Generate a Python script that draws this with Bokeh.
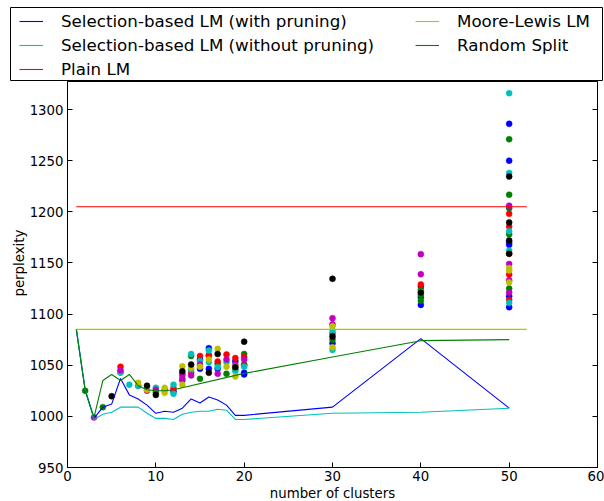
from bokeh.plotting import figure
from bokeh.layouts import column
from bokeh.models import (Legend, LegendItem, FixedTicker, LinearAxis, Range1d,
                          CustomJSTickFormatter, Title)
from bokeh.embed import file_html
from bokeh.resources import INLINE

# ---------------- data ----------------
cluster_x = [1, 2, 3, 4, 5, 6, 7, 8, 9, 10, 11, 12, 13, 14, 15, 16, 17, 18, 19, 20, 30, 40, 50]
with_pruning = [1085, 1026, 998, 1009, 1012, 1037, 1021, 1017, 1011, 1003, 1005, 1004,
                1008, 1017, 1013, 1019, 1016, 1011, 1001, 1001, 1009, 1076, 1008]
without_pruning = [1085, 1026, 997, 1002, 1004, 1009, 1009, 1009, 1003, 998, 998, 997,
                   1002, 1004, 1005, 1005, 1007, 1006, 997, 997, 1003, 1004, 1008]

random_x = [1, 2, 3, 4, 5, 6, 7, 8, 9, 10, 11, 12, 20, 30, 40, 50]
random_split = [1085, 1025, 999, 1035, 1041, 1035, 1041, 1030, 1026, 1025, 1025, 1026,
                1042, 1058, 1074, 1075]

baseline_x = [1, 52]
plain_lm = [1205, 1205]
moore_lewis = [1085, 1085]

# scattered runs, grouped by marker colour
blue_x = [12, 15, 15, 16, 16, 17, 19, 20, 20, 30, 40, 40, 40, 50, 50, 50, 50, 50, 50]
blue_y = [1024.6, 1055.6, 1046.5, 1066.7, 1046.5, 1046.5, 1054, 1042.6, 1041, 1071.5,
          1127, 1116.5, 1109, 1286, 1250, 1170, 1167.7, 1117.5, 1106.7]
green_x = [2, 4, 6, 8, 10, 13, 14, 15, 16, 17, 18, 19, 20, 20, 30, 40, 40, 40,
           50, 50, 50, 50, 50]
green_y = [1025, 1009, 1043, 1030, 1023.6, 1036.7, 1059, 1036.7, 1059, 1051.4, 1041.6,
           1046, 1061, 1050.7, 1075, 1123.7, 1119, 1113, 1271, 1216.7, 1203.5, 1178, 1125]
red_x = [6, 12, 13, 14, 15, 16, 17, 18, 19, 20, 20, 30, 40, 50, 50, 50, 50, 50]
red_y = [1048.5, 1027.5, 1041.6, 1042.6, 1059, 1060, 1053.6, 1060.5, 1057, 1058, 1050,
         1081, 1129, 1198, 1185.6, 1159, 1138.7, 1114]
cyan_x = [6, 7, 8, 10, 12, 12, 14, 14, 15, 16, 16, 17, 18, 19, 20, 30, 30,
          50, 50, 50, 50, 50]
cyan_y = [1043, 1031, 1030, 1028, 1031, 1022, 1061, 1045.5, 1054, 1064.4, 1053, 1048,
          1053, 1044, 1048.5, 1084, 1065, 1316, 1238, 1181, 1162, 1111]
magenta_x = [3, 6, 9, 10, 11, 13, 13, 14, 15, 17, 18, 19, 20, 30, 30, 40, 40,
             50, 50, 50, 50]
magenta_y = [999, 1045, 1025, 1026, 1026, 1040, 1035, 1040, 1050.7, 1041.6, 1055.6,
             1050.7, 1055.6, 1096, 1090, 1158.6, 1139, 1206, 1149, 1133, 1121]
yellow_x = [8, 9, 11, 11, 13, 13, 14, 15, 16, 17, 18, 19, 19, 30, 30, 40, 50, 50, 50]
yellow_y = [1032.8, 1026, 1028, 1023, 1049, 1031, 1047.5, 1048.5, 1055.6, 1066, 1048.5,
            1048.5, 1039, 1067.6, 1088, 1121.5, 1145, 1142.6, 1131]
black_x = [5, 9, 10, 13, 14, 16, 17, 19, 20, 30, 30, 40, 50, 50, 50, 50]
black_y = [1019.7, 1030, 1021, 1044, 1050.7, 1042.6, 1061, 1048, 1073, 1134.5, 1078,
           1121, 1234.5, 1189.6, 1172, 1159]

x_ticks = [0, 10, 20, 30, 40, 50, 60]
y_ticks = [950, 1000, 1050, 1100, 1150, 1200, 1250, 1300]
y_view = (950, 1327.4)   # part of the axis not hidden by the legend

legend_labels = ["Selection-based LM (with pruning)", "Selection-based LM (without pruning)",
                 "Plain LM", "Moore-Lewis LM", "Random Split"]
series_colors = ["#0000ff", "#00bfbf", "#ff0000", "#bfbf00", "#008000"]
series_x = [cluster_x, cluster_x, baseline_x, baseline_x, random_x]
series_y = [with_pruning, without_pruning, plain_lm, moore_lewis, random_split]

FONT = "DejaVu Sans"
lw = 1.1

# ---------------- main plot ----------------
p = figure(width=604, height=420, x_range=Range1d(0, 60), y_range=Range1d(*y_view),
           output_backend="svg", toolbar_location=None, frame_align=False,
           min_border_left=67, min_border_right=7, min_border_top=0, min_border_bottom=34)
p.xgrid.visible = False
p.ygrid.visible = False
p.outline_line_color = "black"
p.outline_line_alpha = 1
p.background_fill_color = "white"
p.border_fill_color = "white"

for ax in (p.xaxis[0], p.yaxis[0]):
    ax.major_tick_in = 5
    ax.major_tick_out = 0
    ax.minor_tick_in = 0
    ax.minor_tick_out = 0
    ax.axis_line_color = "black"
    ax.major_tick_line_color = "black"
    ax.major_label_text_font = FONT
    ax.major_label_text_font_size = "13.3px"
    ax.major_label_text_color = "black"

p.xaxis.ticker = FixedTicker(ticks=x_ticks)
p.yaxis.ticker = FixedTicker(ticks=y_ticks)
p.xaxis.major_label_standoff = 3
p.yaxis.major_label_standoff = 4

xtitle = Title(text="number of clusters", align="center", text_font=FONT,
               text_font_size="13.3px", text_font_style="normal", text_color="black",
               standoff=0)
p.add_layout(xtitle, "below")
ytitle = Title(text="perplexity", align="left", offset=171, text_font=FONT,
               text_font_size="13.3px", text_font_style="normal", text_color="black",
               standoff=0)
p.add_layout(ytitle, "left")

raxis = LinearAxis(ticker=FixedTicker(ticks=y_ticks),
                   formatter=CustomJSTickFormatter(code="return ''"),
                   major_tick_in=5, major_tick_out=0, minor_tick_in=0, minor_tick_out=0,
                   major_label_standoff=0, axis_line_color="black")
p.add_layout(raxis, "right")

for xs, ys, c in [(blue_x, blue_y, "#0000ff"), (green_x, green_y, "#008000"),
                  (red_x, red_y, "#ff0000"), (cyan_x, cyan_y, "#00bfbf"),
                  (magenta_x, magenta_y, "#bf00bf"), (yellow_x, yellow_y, "#bfbf00"),
                  (black_x, black_y, "#000000")]:
    p.scatter(xs, ys, size=6, fill_color=c, line_color=c, line_width=0.5)

for xs, ys, c in zip(series_x, series_y, series_colors):
    p.line(xs, ys, line_color=c, line_width=lw)

# ---------------- legend strip on top ----------------
lg = figure(width=604, height=81, x_range=Range1d(0, 1), y_range=Range1d(0, 1),
            x_axis_type=None, y_axis_type=None, frame_align=False,
            output_backend="svg", toolbar_location=None,
            min_border_left=10, min_border_right=2, min_border_top=7, min_border_bottom=0)
lg.xgrid.visible = False
lg.ygrid.visible = False
lg.outline_line_color = "black"
lg.outline_line_alpha = 1
lg.background_fill_color = "white"
lg.border_fill_color = "white"

# same series, outside this strip's view: they only supply the legend glyphs
handles = [lg.line(xs, ys, line_color=c, line_width=lw)
           for xs, ys, c in zip(series_x, series_y, series_colors)]

common = dict(orientation="vertical", padding=3, spacing=4, margin=0,
              border_line_color=None, background_fill_alpha=0,
              glyph_width=24, glyph_height=20, label_height=20, label_standoff=18,
              label_text_font=FONT, label_text_font_size="16.7px",
              label_text_color="black")
leg1 = Legend(items=[LegendItem(label=legend_labels[i], renderers=[handles[i]]) for i in range(3)],
              location=(9, 2), **common)
leg2 = Legend(items=[LegendItem(label=legend_labels[i], renderers=[handles[i]]) for i in range(3, 5)],
              location=(405, 26), **common)
lg.add_layout(leg1)
lg.add_layout(leg2)

page = column(lg, p, spacing=0)
open("out.html", "w").write(file_html(page, INLINE))
